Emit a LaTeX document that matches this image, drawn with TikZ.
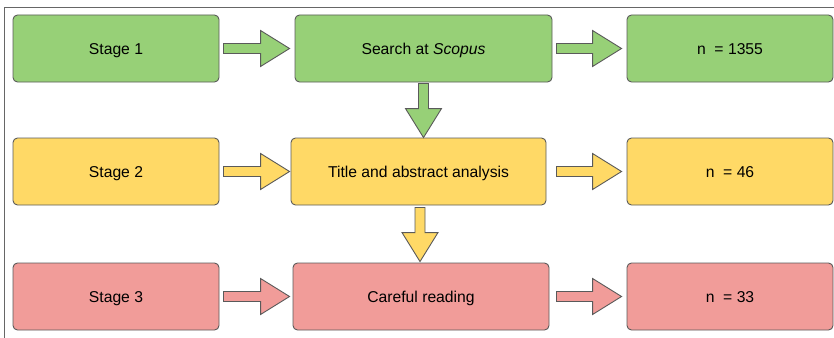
\documentclass[tikz,border=0pt]{standalone}
\usepackage{fontspec}
\setmainfont{Liberation Sans}
\usetikzlibrary{calc}
\definecolor{cgreen}{HTML}{97D077}
\definecolor{cyellow}{HTML}{FFD966}
\definecolor{cred}{HTML}{F19C99}
\definecolor{cline}{HTML}{5A5A5A}
\definecolor{cframe}{HTML}{666666}
\tikzset{
  box/.style={draw=cline, line width=0.9pt, rounded corners=4.5pt, minimum height=67pt,
    inner sep=0pt, text height=14pt, text depth=3pt,
    font=\fontsize{15.7}{18}\selectfont, text=black},
  smallbox/.style={box, minimum width=206pt},
  arrowstyle/.style={draw=cline, line width=0.9pt, line join=miter},
}
\newcommand\harr[3]{\draw[arrowstyle,fill=#3] let \p1=#1, \p2=#2 in
  (\x1,\y1+5pt) -- (\x2-29pt,\y1+5pt) -- (\x2-29pt,\y1+18pt) -- (\x2,\y1)
  -- (\x2-29pt,\y1-18pt) -- (\x2-29pt,\y1-5pt) -- (\x1,\y1-5pt) -- cycle;}
\newcommand\varr[3]{\draw[arrowstyle,fill=#3] let \p1=#1, \p2=#2 in
  (\x1-5pt,\y1) -- (\x1-5pt,\y2+29pt) -- (\x1-18pt,\y2+29pt) -- (\x1,\y2)
  -- (\x1+18pt,\y2+29pt) -- (\x1+5pt,\y2+29pt) -- (\x1+5pt,\y1) -- cycle;}
\begin{document}
\begin{tikzpicture}[x=1pt,y=1pt]
\useasboundingbox (0,0) rectangle (834,-337);
\draw[cframe, line width=0.8pt] (4,-340) -- (4,-7) -- (840,-7);
% row 1
\node[smallbox, fill=cgreen] (s1) at (116,-48.5) {Stage 1};
\node[box, minimum width=257pt, fill=cgreen] (search) at (423.5,-48.5) {Search at \textit{Scopus}};
\node[smallbox, fill=cgreen] (n1) at (730,-48.5) {n~~= 1355};
% row 2
\node[smallbox, fill=cyellow] (s2) at (116,-171.5) {Stage 2};
\node[box, minimum width=255pt, fill=cyellow] (title) at (418.5,-171.5) {Title and abstract analysis};
\node[smallbox, fill=cyellow] (n2) at (730,-171.5) {n~~= 46};
% row 3
\node[smallbox, fill=cred] (s3) at (116,-296.5) {Stage 3};
\node[box, minimum width=256pt, fill=cred] (read) at (421,-296.5) {Careful reading};
\node[smallbox, fill=cred] (n3) at (730,-296.5) {n~~= 33};
% horizontal arrows
\harr{($(s1.east)+(4,0)$)}{($(search.west)+(-5,0)$)}{cgreen}
\harr{($(search.east)+(4,0)$)}{($(n1.west)+(-5,0)$)}{cgreen}
\harr{($(s2.east)+(4,0)$)}{($(title.west)+(-1,0)$)}{cyellow}
\harr{($(title.east)+(10,0)$)}{($(n2.west)+(-5,0)$)}{cyellow}
\harr{($(s3.east)+(4,0)$)}{($(read.west)+(-3,0)$)}{cred}
\harr{($(read.east)+(7,0)$)}{($(n3.west)+(-5,0)$)}{cred}
% vertical arrows
\varr{($(search.south)+(0,-1)$)}{(title.north)}{cgreen}
\varr{($(title.south)+(1.5,-2)$)}{($(read.north)+(0,1)$)}{cyellow}
\end{tikzpicture}
\end{document}
